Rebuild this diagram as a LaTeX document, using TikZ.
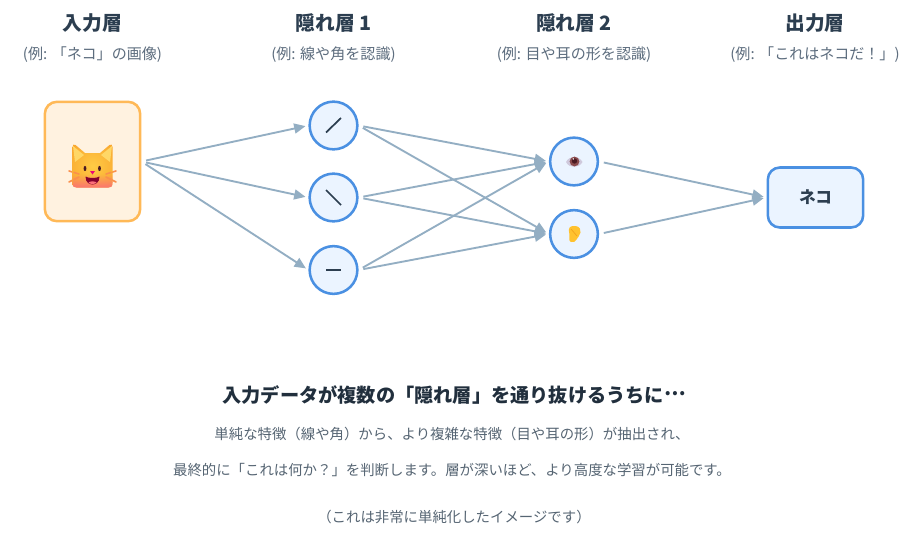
\documentclass[tikz,border=0pt]{standalone}
\usepackage{fontspec}
\setmainfont{Noto Sans CJK JP}
\usetikzlibrary{arrows.meta,fadings}
\definecolor{catred}{HTML}{FB6F7A}
\definecolor{catorange}{HTML}{F9A52E}
\definecolor{catyellow}{HTML}{FFCB45}
\definecolor{catlight}{HTML}{FFD766}
\definecolor{ink}{HTML}{2C3E50}
\definecolor{subink}{HTML}{5D6D7E}
\definecolor{edge}{HTML}{93AEC3}
\definecolor{nodeline}{HTML}{4A90E2}
\definecolor{nodefill}{HTML}{EBF4FF}
\definecolor{inputline}{HTML}{FFB957}
\definecolor{inputfill}{HTML}{FFF2E0}
\definecolor{captink}{HTML}{212F3D}
\definecolor{bodyink}{HTML}{566573}
\definecolor{iris}{HTML}{8A4A4C}
\definecolor{pupil}{HTML}{4A1A22}
\definecolor{eyewhite}{HTML}{CFC9DC}
\definecolor{earfill}{HTML}{FFC22E}
\definecolor{earline}{HTML}{F2A31C}
\tikzset{
  x=0.75pt,y=-0.75pt,
  layertitle/.style={font=\fontsize{14.8pt}{17pt}\selectfont\bfseries,text=ink,inner sep=0pt,anchor=center},
  layersub/.style={font=\fontsize{11.3pt}{14pt}\selectfont,text=subink,inner sep=0pt,anchor=center},
  neuron/.style={circle,draw=nodeline,fill=nodefill,line width=1.9pt,minimum size=35.8pt,inner sep=0pt},
  inbox/.style={rectangle,rounded corners=9pt,draw=inputline,fill=inputfill,line width=1.9pt,minimum width=71.5pt,minimum height=89.5pt,inner sep=0pt},
  outbox/.style={rectangle,rounded corners=9pt,draw=nodeline,fill=nodefill,line width=1.9pt,minimum width=71.5pt,minimum height=45pt,inner sep=0pt,font=\fontsize{12.5pt}{15pt}\selectfont\bfseries,text=ink},
  conn/.style={draw=edge,line width=1.4pt,shorten <=3.6pt,shorten >=2.2pt,-{Triangle[length=8.5pt,width=7.5pt]}},
  glyphline/.style={draw=ink,line width=1.3pt},
  capt/.style={font=\fontsize{14.4pt}{17pt}\selectfont\bfseries,text=captink,inner sep=0pt,anchor=center},
  bodyt/.style={font=\fontsize{10.8pt}{13pt}\selectfont,text=bodyink,inner sep=0pt,anchor=center},
}
\begin{document}
\begin{tikzpicture}
\useasboundingbox (0,0) rectangle (914,539);
\fill[white] (0,0) rectangle (914,539);
% headers
\node[layertitle] (t1) at (92.5,23) {入力層};
\node[layersub] (s1) at (92.5,54.5) {(例: 「ネコ」の画像)};
\node[layertitle] (t2) at (333.5,23) {隠れ層 1};
\node[layersub] (s2) at (333.5,54.5) {(例: 線や角を認識)};
\node[layertitle] (t3) at (574,23) {隠れ層 2};
\node[layersub] (s3) at (574,54.5) {(例: 目や耳の形を認識)};
\node[layertitle] (t4) at (815,23) {出力層};
\node[layersub] (s4) at (815,54.5) {(例: 「これはネコだ！」)};
% nodes
\node[inbox] (in) at (92.5,161.5) {};
\node[neuron] (a) at (333.5,125.5) {};
\node[neuron] (b) at (333.5,197.5) {};
\node[neuron] (c) at (333.5,270) {};
\node[neuron] (d) at (574,161.5) {};
\node[neuron] (e) at (574,234) {};
\node[outbox] (out) at (815.5,197.5) {ネコ};
% connectors
\foreach \p/\q in {in/a,in/b,in/c,a/d,a/e,b/d,b/e,c/d,c/e,d/out,e/out}
  \draw[conn] (\p.east) -- (\q.west);
% cat
\begin{scope}
  \draw[line width=1.2pt,draw=catorange!60!catred,line cap=round]
    (69,171)--(79,174) (69,182)--(79,177) (116,171)--(106,174) (116,182)--(106,177);
  \begin{scope}
    \clip (72.5,147) .. controls (72.5,144.5) and (74,144) .. (75.5,145) -- (85,153) -- (100,153)
      -- (109.5,145) .. controls (111,144) and (112.5,144.5) .. (112.5,147)
      -- (112.5,183) .. controls (112.5,186.5) and (111,187.7) .. (108,187.7)
      -- (77,187.7) .. controls (74,187.7) and (72.5,186.5) .. (72.5,183) -- cycle;
    \shade[inner color=catyellow,outer color=catorange] (92.5,166) circle (30);
    \fill[catred,path fading=north] (70,174) rectangle (115,189);
    \fill[catlight] (73,146) -- (84,155) -- (75,162) -- cycle;
    \fill[catlight] (112,146) -- (101,155) -- (110,162) -- cycle;
  \end{scope}
  \draw[line width=1.2pt,draw=catorange!60!catred,line cap=round]
    (74,172.5)--(79,174) (74,179.5)--(79,177) (111,172.5)--(106,174) (111,179.5)--(106,177);
  \fill[pupil] (85,168.5) ellipse (1.4 and 2.6);
  \fill[pupil] (99.5,168.5) ellipse (1.4 and 2.6);
  \fill[magenta!80!red] (90,171) -- (95,171) -- (92.5,174.5) -- cycle;
  \fill[black!30!purple] (85.5,176.5) .. controls (88,178.5) and (97,178.5) .. (99.5,176.5)
    .. controls (99.5,183) and (95,184.5) .. (92.5,184.5)
    .. controls (90,184.5) and (85.5,183) .. (85.5,176.5) -- cycle;
  \fill[catred] (88.5,182.5) .. controls (90,181) and (95,181) .. (96.5,182.5)
    .. controls (95,184.5) and (90,184.5) .. (88.5,182.5) -- cycle;
\end{scope}
% neuron glyphs
\draw[glyphline] (326,132.5) -- (341,118);
\draw[glyphline] (326,190) -- (341,205);
\draw[glyphline] (326,270) -- (341,270);
% eye
\fill[eyewhite] (566,162) .. controls (569,155.5) and (579,155.5) .. (582.5,162)
  .. controls (579,168.5) and (569,168.5) .. (566,162) -- cycle;
\fill[iris] (574.5,161.5) circle (4.9);
\fill[pupil] (574.5,161) circle (2.7);
\fill[white] (573.3,158.9) circle (0.8);
% ear
\fill[earfill] (568.8,230) .. controls (569,226) and (573,225.5) .. (575.5,226)
  .. controls (580,226.5) and (581,230) .. (580.5,232.5)
  .. controls (580,236) and (577.5,237) .. (576.5,239.5)
  .. controls (575.5,242) and (573,242.5) .. (571,242)
  .. controls (569,241.5) and (569,238) .. (569.5,235)
  .. controls (569.5,233) and (568.8,232) .. (568.8,230) -- cycle;
\draw[earline,line width=0.5pt] (571,229) -- (577,236);
% caption
\node[capt] (cap) at (454,395) {入力データが複数の「隠れ層」を通り抜けるうちに\raisebox{0.36em}{…}};
\node[bodyt] (l1) at (452,434) {単純な特徴（線や角）から、より複雑な特徴（目や耳の形）が抽出され、};
\node[bodyt] (l2) at (452,470) {最終的に「これは何か？」を判断します。層が深いほど、より高度な学習が可能です。};
\node[bodyt] (l3) at (454,517) {（これは非常に単純化したイメージです）};
\end{tikzpicture}
\end{document}
